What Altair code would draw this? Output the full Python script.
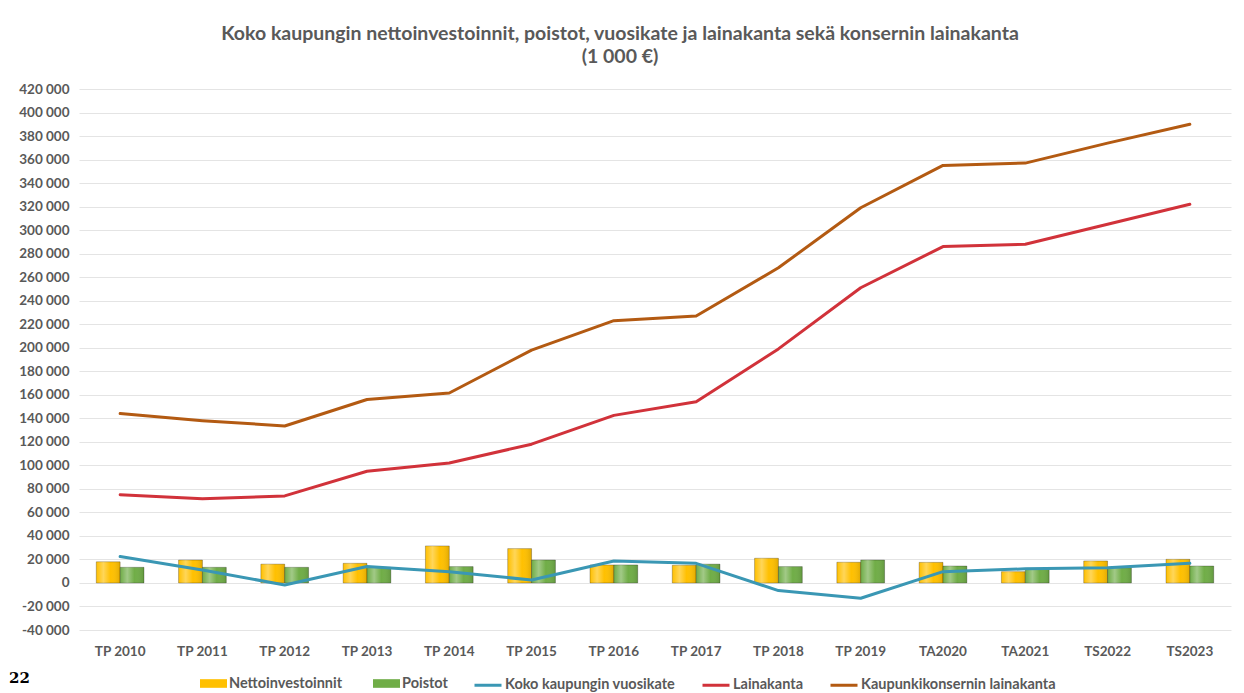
import altair as alt
import pandas as pd

categories = ["TP 2010", "TP 2011", "TP 2012", "TP 2013", "TP 2014", "TP 2015", "TP 2016",
              "TP 2017", "TP 2018", "TP 2019", "TA2020", "TA2021", "TS2022", "TS2023"]
netto = [18000, 19500, 16000, 16700, 31500, 29200, 15300, 15000, 21000, 17600, 17500, 9600, 18700, 20100]
poistot = [13300, 13300, 13300, 13300, 13900, 19500, 15300, 16000, 13900, 19500, 14400, 12400, 13000, 14400]
vuosikate = [22500, 11000, -1700, 14000, 9600, 2500, 18700, 16700, -6500, -13000, 9600, 12000, 13000, 16700]
lainakanta = [75000, 71500, 74000, 95000, 102000, 118000, 142500, 154000, 199000, 251000, 286000, 288000, 305000, 322000]
konserni = [144000, 138000, 133500, 156000, 161500, 198000, 223000, 227000, 268000, 319000, 355000, 357000, 374000, 390000]

bar_series = ["Nettoinvestoinnit", "Poistot"]
bar_colors = ["#FFC000", "#70AD47"]
line_series = ["Koko kaupungin vuosikate", "Lainakanta", "Kaupunkikonsernin lainakanta"]
line_colors = ["#3A97B4", "#D1323A", "#B35A12"]
y_ticks = list(range(-40000, 420001, 20000))

title_lines = ["Koko kaupungin nettoinvestoinnit, poistot, vuosikate ja lainakanta sekä konsernin lainakanta",
               "(1 000 €)"]
note_text = ["22"]

n = len(categories)
bars_df = pd.DataFrame({
    "kausi": categories * 2,
    "sarja": [bar_series[0]] * n + [bar_series[1]] * n,
    "arvo": netto + poistot,
})
lines_df = pd.DataFrame({
    "kausi": categories * 3,
    "sarja": [line_series[0]] * n + [line_series[1]] * n + [line_series[2]] * n,
    "arvo": vuosikate + lainakanta + konserni,
})

FONT = "Lato"
GREY = "#595959"

x = alt.X("kausi:N", sort=categories,
          scale=alt.Scale(paddingInner=0.42, paddingOuter=0.21),
          axis=alt.Axis(title=None, labelAngle=0, ticks=False, domain=False, grid=False,
                        labelPadding=14, labelFontSize=13.5, labelFontWeight="bold",
                        labelColor=GREY, labelFont=FONT))
y = alt.Y("arvo:Q",
          scale=alt.Scale(domain=[-40000, 420000], nice=False, zero=False),
          axis=alt.Axis(title=None, values=y_ticks, ticks=False, domain=False,
                        gridColor="#E4E4E4", gridWidth=1, labelPadding=10,
                        labelFontSize=13.5, labelFontWeight="bold", labelColor=GREY, labelFont=FONT,
                        labelExpr="replace(replace(format(datum.value, ','), ',', ' '), '\u2212', '-')"))
xoff = alt.XOffset("sarja:N", sort=bar_series, scale=alt.Scale(paddingInner=0, paddingOuter=0))

legend_common = dict(orient="none", legendY=581, direction="horizontal", title=None,
                     symbolSize=729, labelFontSize=14.5, labelFont=FONT, labelFontWeight="bold",
                     labelColor=GREY, labelLimit=300, padding=0, labelOffset=2)

bars = alt.Chart(bars_df).mark_bar(stroke="#000000", strokeOpacity=0.25, strokeWidth=1).encode(
    x=x, y=y, xOffset=xoff,
    fill=alt.Fill("sarja:N", sort=bar_series,
                  scale=alt.Scale(domain=bar_series, range=bar_colors),
                  legend=alt.Legend(legendX=121, symbolType="M-1,-0.32H1V0.32H-1Z",
                                    symbolStrokeWidth=0, columnPadding=30, **legend_common)),
)

shine = alt.Chart(bars_df).mark_bar(
    fill=alt.LinearGradient(gradient="linear", x1=0, x2=1, y1=0, y2=0, stops=[
        alt.GradientStop(color="rgba(255,255,255,0.0)", offset=0),
        alt.GradientStop(color="rgba(255,255,255,0.35)", offset=0.3),
        alt.GradientStop(color="rgba(255,255,255,0.0)", offset=0.6),
        alt.GradientStop(color="rgba(0,0,0,0.12)", offset=1),
    ])
).encode(x=x, y=y, xOffset=xoff)

lines = alt.Chart(lines_df).mark_line(strokeWidth=3, strokeCap="round", strokeJoin="round").encode(
    x=x, y=y,
    stroke=alt.Stroke("sarja:N", sort=line_series,
                      scale=alt.Scale(domain=line_series, range=line_colors),
                      legend=alt.Legend(legendX=394, symbolType="stroke", symbolStrokeWidth=3,
                                        columnPadding=20, **legend_common)),
    detail="sarja:N",
)

note = alt.Chart(pd.DataFrame({"t": note_text})).mark_text(
    align="left", baseline="middle", font="DejaVu Serif", fontWeight="bold", fontSize=15, color="#000000"
).encode(text="t:N", x=alt.value(-70), y=alt.value(589))

chart = alt.layer(bars, shine, lines, note).properties(
    width=1152, height=541,
    title=alt.TitleParams(text=title_lines, anchor="middle", frame="bounds", fontSize=19.5,
                          fontWeight="bold", color=GREY, font=FONT, offset=15, lineHeight=23),
    autosize=alt.AutoSizeParams(type="none"),
    padding={"left": 71, "top": 81, "right": 5, "bottom": 62},
).configure(font=FONT).configure_view(stroke=None)

chart.save("out.html", embed_options={"renderer": "svg", "actions": False})
